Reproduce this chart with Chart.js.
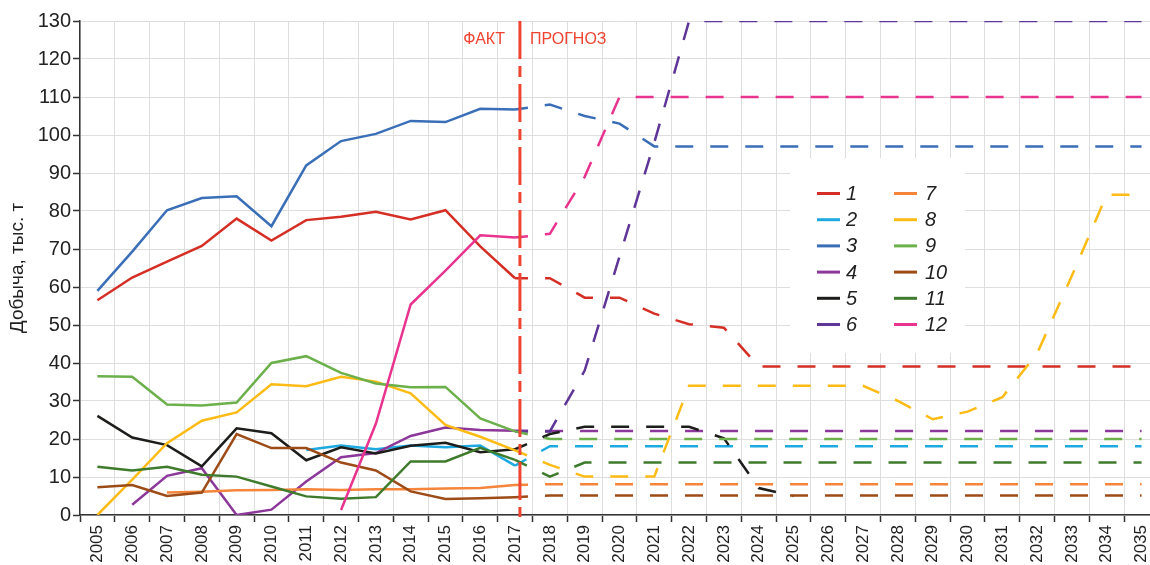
<!DOCTYPE html>
<html lang="ru">
<head>
<meta charset="utf-8">
<title>Добыча, тыс. т</title>
<script src="https://cdn.jsdelivr.net/npm/chart.js@4.4.1/dist/chart.umd.min.js"></script>
<style>
  html, body { margin: 0; padding: 0; background: #fff; overflow: hidden; }
  #wrap { width: 1150px; height: 565px; overflow: hidden; }
</style>
</head>
<body>
<div id="wrap"><canvas id="chart" width="1165" height="565"></canvas></div>
<script>
// годы по оси X
const years = [
  "2005", "2006", "2007", "2008", "2009", "2010", "2011", "2012", "2013", "2014",
  "2015", "2016", "2017", "2018", "2019", "2020", "2021", "2022", "2023", "2024",
  "2025", "2026", "2027", "2028", "2029", "2030", "2031", "2032", "2033", "2034", "2035",
];

// ряды: факт 2005–2017, прогноз 2017–2035
const s1 = [56.5, 62.5, 66.7, 70.8, 78, 72.2, 77.6, 78.5, 79.8, 77.8, 80.2, 70.7, 62.3,
  62.3, 57.2, 57.2, 53, 50.2, 49.3, 39.1, 39.1, 39.1, 39.1, 39.1, 39.1, 39.1, 39.1, 39.1, 39.1, 39.1, 39.1];
const s2 = [null, null, null, null, null, null, 17.1, 18.3, 17.3, 18.3, 17.8, 18.3, 13,
  18.1, 18.1, 18.1, 18.1, 18.1, 18.1, 18.1, 18.1, 18.1, 18.1, 18.1, 18.1, 18.1, 18.1, 18.1, 18.1, 18.1, 18.1];
const s3 = [59, 69.3, 80.2, 83.4, 83.9, 76, 92, 98.4, 100.3, 103.7, 103.4, 106.9, 106.7,
  108, 105, 103, 97, 97, 97, 97, 97, 97, 97, 97, 97, 97, 97, 97, 97, 97, 97];
const s4 = [null, 2.7, 10.3, 12.3, 0, 1.4, 8.8, 15.2, 16.3, 20.8, 23, 22.4, 22.2,
  22.1, 22.1, 22.1, 22.1, 22.1, 22.1, 22.1, 22.1, 22.1, 22.1, 22.1, 22.1, 22.1, 22.1, 22.1, 22.1, 22.1, 22.1];
const s5 = [26.1, 20.4, 18.4, 12.8, 22.8, 21.5, 14.4, 17.8, 16.2, 18.2, 19, 16.5, 17.3,
  21.3, 23.2, 23.2, 23.2, 23.2, 20.2, 7.1, 5, null, null, null, null, null, null, null, null, null, null];
const s6 = [null, null, null, null, null, null, null, null, null, null, null, null, 22,
  22, 38, 68, 98, 130, 130, 130, 130, 130, 130, 130, 130, 130, 130, 130, 130, 130, 130];
const s7 = [null, null, 5.9, 6.1, 6.5, 6.6, 6.8, 6.6, 6.8, 6.8, 7, 7.1, 7.9,
  8.1, 8.1, 8.1, 8.1, 8.1, 8.1, 8.1, 8.1, 8.1, 8.1, 8.1, 8.1, 8.1, 8.1, 8.1, 8.1, 8.1, 8.1];
const s8 = [0, 9.3, 18.9, 24.8, 27, 34.4, 33.9, 36.4, 35.1, 32, 23.7, 20.6, 17,
  13.2, 10.1, 10.1, 10.1, 34, 34, 34, 34, 34, 34, 30, 25.2, 27.2, 31, 42.5, 63, 84.3, 84.3];
const s9 = [36.5, 36.4, 29.1, 28.8, 29.6, 40, 41.8, 37.4, 34.6, 33.6, 33.7, 25.4, 22,
  20, 20, 20, 20, 20, 20, 20, 20, 20, 20, 20, 20, 20, 20, 20, 20, 20, 20];
const s10 = [7.3, 7.9, 5, 5.9, 21.3, 17.6, 17.6, 13.8, 11.7, 6.2, 4.2, 4.4, 4.7,
  5.1, 5.1, 5.1, 5.1, 5.1, 5.1, 5.1, 5.1, 5.1, 5.1, 5.1, 5.1, 5.1, 5.1, 5.1, 5.1, 5.1, 5.1];
const s11 = [12.7, 11.7, 12.7, 10.6, 10.1, 7.5, 4.9, 4.3, 4.7, 14.1, 14.1, 17.7, 14.5,
  10.1, 13.8, 13.8, 13.8, 13.8, 13.8, 13.8, 13.8, 13.8, 13.8, 13.8, 13.8, 13.8, 13.8, 13.8, 13.8, 13.8, 13.8];
const s12 = [null, null, null, null, null, null, null, 1.3, 24, 55.4, 64.3, 73.6, 73,
  74, 89, 110, 110, 110, 110, 110, 110, 110, 110, 110, 110, 110, 110, 110, 110, 110, 110];

const seriesNames = ["1", "2", "3", "4", "5", "6", "7", "8", "9", "10", "11", "12"];
const seriesData = [s1, s2, s3, s4, s5, s6, s7, s8, s9, s10, s11, s12];
const seriesColors = [
  "#d52f25", "#1ea9e1", "#3a6fb8", "#8c379a", "#1d1d1b", "#5f3597",
  "#f5853a", "#fdbb16", "#6bb04b", "#9d4b17", "#3f7b2c", "#e8348e",
];

const FORECAST_FROM = 12; // 2017 - граница факт/прогноз
const FONT = "'Liberation Sans', Arial, sans-serif";
const RED = "#ef4431";

// белая плашка легенды в две колонки
const legendPlugin = {
  id: "legendBox",
  beforeDatasetsDraw(chart) {
    const ctx = chart.ctx;
    ctx.save();
    ctx.fillStyle = "#fff";
    ctx.fillRect(790, 158, 175, 195);
    ctx.font = "italic 20px " + FONT;
    ctx.textBaseline = "middle";
    seriesNames.forEach((name, i) => {
      const col = i < 6 ? 0 : 1;
      const y = 193.5 + (i % 6) * 26.2;
      const x0 = col ? 894 : 817;
      ctx.strokeStyle = seriesColors[i];
      ctx.lineWidth = 3;
      ctx.beginPath();
      ctx.moveTo(x0, y);
      ctx.lineTo(x0 + 23, y);
      ctx.stroke();
      ctx.fillStyle = "#222";
      ctx.fillText(name, col ? 925 : 846, y + 1);
    });
    ctx.restore();
  },
};

// вертикальная линия факт / прогноз
const dividerPlugin = {
  id: "divider",
  afterDatasetsDraw(chart) {
    const { ctx, chartArea, scales } = chart;
    const xs = scales.x;
    const step = xs.getPixelForValue(FORECAST_FROM + 1) - xs.getPixelForValue(FORECAST_FROM);
    const x = xs.getPixelForValue(FORECAST_FROM) + step * 0.14;
    ctx.save();
    ctx.strokeStyle = RED;
    ctx.lineWidth = 3;
    ctx.setLineDash([38, 7, 11, 7]);
    ctx.beginPath();
    ctx.moveTo(x, chartArea.top);
    ctx.lineTo(x, chartArea.bottom + 2);
    ctx.stroke();
    ctx.setLineDash([]);
    ctx.fillStyle = RED;
    ctx.font = "16px " + FONT;
    ctx.textBaseline = "middle";
    ctx.textAlign = "right";
    ctx.fillText("ФАКТ", x - 15, 40);
    ctx.textAlign = "left";
    ctx.fillText("ПРОГНОЗ", x + 10, 40);
    ctx.restore();
  },
};

const datasets = seriesData.map((data, i) => ({
  label: seriesNames[i],
  data: data,
  borderColor: seriesColors[i],
  backgroundColor: seriesColors[i],
  borderWidth: 2.5,
  pointRadius: 0,
  tension: 0,
  spanGaps: false,
  order: 12 - i,
  borderDashOffset: 5,
  segment: {
    borderDash: (c) => (c.p0DataIndex >= FORECAST_FROM ? [18, 17] : undefined),
  },
}));

new Chart(document.getElementById("chart"), {
  type: "line",
  data: { labels: years, datasets: datasets },
  plugins: [legendPlugin, dividerPlugin],
  options: {
    responsive: false,
    animation: false,
    layout: { padding: { top: 21, right: 3, bottom: 0, left: 0 } },
    plugins: {
      legend: { display: false },
      tooltip: { enabled: false },
    },
    scales: {
      x: {
        offset: true,
        grid: { offset: true, color: "#dedede", lineWidth: 1, tickLength: 7, tickColor: "#333", tickWidth: 1.5 },
        border: { color: "#333", width: 1.5 },
        ticks: {
          autoSkip: false,
          minRotation: 90,
          maxRotation: 90,
          padding: 3,
          color: "#222",
          font: { family: FONT, size: 17 },
        },
        afterFit(scale) { scale.height = 50; },
      },
      y: {
        min: 0,
        max: 130,
        grid: { color: "#dedede", lineWidth: 1, tickLength: 7, tickColor: "#333", tickWidth: 1.5 },
        border: { color: "#333", width: 1.5 },
        ticks: {
          stepSize: 10,
          padding: 2,
          color: "#222",
          font: { family: FONT, size: 20 },
        },
        title: {
          display: true,
          text: "Добыча, тыс. т",
          color: "#222",
          font: { family: FONT, size: 19 },
          padding: { top: 6, bottom: 0 },
        },
        afterFit(scale) { scale.width = 80; },
      },
    },
  },
});
</script>
</body>
</html>
